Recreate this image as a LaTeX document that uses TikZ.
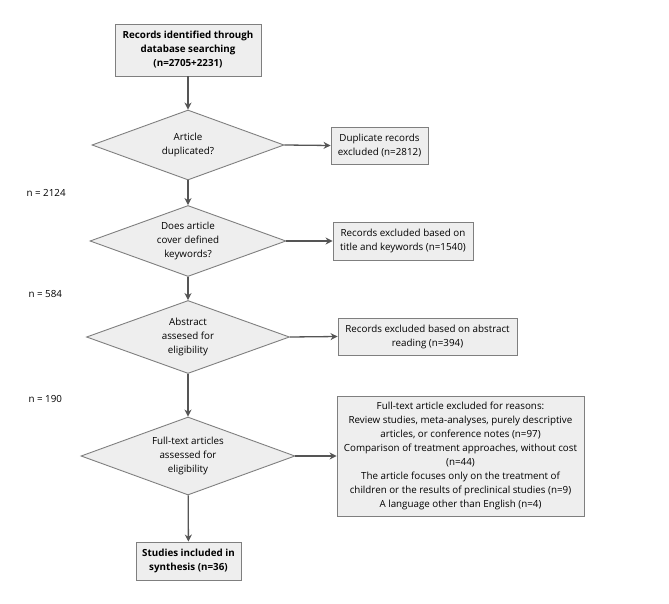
\documentclass[tikz,border=0pt]{standalone}
\usepackage{fontspec}
\setmainfont{Open Sans}
\usetikzlibrary{shapes.geometric,arrows.meta}
\definecolor{boxfill}{HTML}{EEEEEE}
\definecolor{boxline}{HTML}{7F7F7F}
\definecolor{arr}{HTML}{555555}
\tikzset{
  every node/.style={font=\fontsize{9.8}{14}\selectfont, text=black},
  rbox/.style={draw=boxline, fill=boxfill, line width=0.9pt, rectangle, align=center, inner sep=0pt},
  dia/.style={draw=boxline, fill=boxfill, line width=0.9pt, diamond, inner sep=0pt, aspect=2.7},
  dtext/.style={align=center},
  side/.style={anchor=west},
  link/.style={draw=arr, line width=1.3pt, -{Stealth[length=7pt,width=7pt]}}
}
\begin{document}
\begin{tikzpicture}[x=1pt,y=-1pt]
\useasboundingbox (0,0) rectangle (669,604);
\node[rbox, minimum width=146pt, minimum height=52pt, font=\fontsize{9.8}{14}\selectfont\bfseries] (top) at (188,50) {Records identified through\\database searching\\(n=2705+2231)};
\node[dia, minimum width=192pt, minimum height=70pt] (d1) at (188,145) {};
\node[dtext] at (d1.center) {Article\\duplicated?};
\node[dia, minimum width=196pt, minimum height=71pt] (d2) at (188,241) {};
\node[dtext] at (d2.center) {Does article\\cover defined\\keywords?};
\node[dia, minimum width=203pt, minimum height=73pt] (d3) at (188,337) {};
\node[dtext] at (d3.center) {Abstract\\assesed for\\eligibility};
\node[dia, minimum width=214pt, minimum height=78pt] (d4) at (188,456) {};
\node[dtext] at (d4.center) {Full-text articles\\assessed for\\eligibility};
\node[rbox, minimum width=105pt, minimum height=38pt, font=\fontsize{9.8}{14}\selectfont\bfseries] (fin) at (188.5,561) {Studies included in\\synthesis (n=36)};

\node[rbox, minimum width=97pt, minimum height=37pt] (e1) at (379.5,145.5) {Duplicate records\\excluded (n=2812)};
\node[rbox, minimum width=140pt, minimum height=38pt] (e2) at (403,241) {Records excluded based on\\title and keywords (n=1540)};
\node[rbox, minimum width=179pt, minimum height=37pt] (e3) at (427.5,336.5) {Records excluded based on abstract\\reading (n=394)};
\node[rbox, minimum width=247pt, minimum height=120pt] (e4) at (460.5,456) {Full-text article excluded for reasons:\\Review studies, meta-analyses, purely descriptive\\articles, or conference notes (n=97)\\Comparison of treatment approaches, without cost\\(n=44)\\The article focuses only on the treatment of\\children or the results of preclinical studies (n=9)\\A language other than English (n=4)};

\node[side] (n1) at (23,193) {n = 2124};
\node[side] (n2) at (25,294) {n = 584};
\node[side] (n3) at (25,399) {n = 190};

\draw[link] (top) -- (d1);
\draw[link] (d1) -- (d2);
\draw[link] (d2) -- (d3);
\draw[link] (d3) -- (d4);
\draw[link] (d4) -- (fin);
\draw[link] (d1.east) -- (e1.west);
\draw[link] (d2.east) -- (e2.west);
\draw[link] (d3.east) -- (e3.west);
\draw[link] (d4.east) -- (e4.west);
\end{tikzpicture}
\end{document}
